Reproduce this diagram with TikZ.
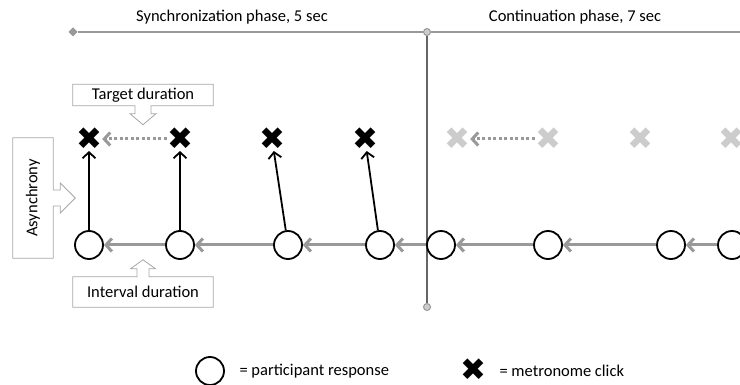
\documentclass[tikz,border=0pt]{standalone}
\usepackage{fontspec}
\setmainfont{Carlito}
\newfontfamily\symbolfont{DejaVu Sans}
\usepackage{tikz}
\usetikzlibrary{arrows.meta,shapes.geometric}
\definecolor{linegray}{gray}{0.6}
\definecolor{palegray}{gray}{0.8}
\definecolor{framegray}{gray}{0.65}
\definecolor{splitgray}{gray}{0.4}
\def\tipdown{-- ++(0,8) -- ++(5,0) -- ++(-13,11) -- ++(-13,-11) -- ++(5,0) -- ++(0,-8)}
\def\tipup{-- ++(0,-8) -- ++(-6.5,0) -- ++(12.5,-9) -- ++(12.5,9) -- ++(-6.5,0) -- ++(0,8)}
\def\tipright{-- ++(7,0) -- ++(0,-7) -- ++(15,15) -- ++(-15,15) -- ++(0,-7) -- ++(-7,0)}
\tikzset{
    resp/.style={circle, draw, line width=1.8pt, minimum size=28pt, inner sep=0pt},
    click/.style={inner sep=0pt, text=#1, font=\symbolfont\fontsize{31}{31}\selectfont},
    click/.default=black,
    box/.style={minimum width=140pt, minimum height=21pt, inner sep=0pt},
    callout/.style={draw=framegray, line width=0.8pt, line join=miter},
    interval/.style={draw=linegray, line width=3pt, -{Straight Barb[length=6pt,width=13pt]}},
    target/.style={draw=linegray, line width=3pt, dash pattern=on 3pt off 2.5pt, -{Straight Barb[length=6pt,width=13pt]}},
    answer/.style={line width=1.8pt, -{Straight Barb[length=6pt,width=13pt]}, shorten >=1pt},
    mark/.style={draw=linegray, fill=#1, line width=1pt, inner sep=0pt, minimum size=7pt},
}
\begin{document}
\begin{tikzpicture}[x=1pt, y=-1pt, font=\fontsize{16.5}{19}\selectfont]
                \useasboundingbox (0,0) rectangle (740,385);
                % time line
                \node (synctitle) at (232,17) {Synchronization phase, 5 sec};
                \node (conttitle) at (575,17) {Continuation phase, 7 sec};
                \node[mark=linegray, diamond, minimum size=8pt] (start) at (73,32) {};
                \node[mark=palegray, circle] (switch) at (427,32) {};
                \node[mark=palegray, circle] (stop) at (427,307) {};
                \coordinate (far) at (745,32);
                \draw[linegray, line width=2pt] (start) -- (switch) -- (far);
                \draw[splitgray, line width=1.5pt] (switch) -- (stop);
                % clicks
                \node[click] (m1) at (89,139) {✖};
                \node[click] (m2) at (180,139) {✖};
                \node[click] (m3) at (272,139) {✖};
                \node[click] (m4) at (365,139) {✖};
                \node[click=palegray] (m5) at (457,139) {✖};
                \node[click=palegray] (m6) at (548,139) {✖};
                \node[click=palegray] (m7) at (640,139) {✖};
                \node[click=palegray] (m8) at (731,139) {✖};
                % responses
                \node[resp] (r1) at (89,245) {};
                \node[resp] (r2) at (180,245) {};
                \node[resp] (r3) at (288,245) {};
                \node[resp] (r4) at (380,245) {};
                \node[resp] (r5) at (441,245) {};
                \node[resp] (r6) at (548,245) {};
                \node[resp] (r7) at (671,245) {};
                \node[resp] (r8) at (732,245) {};
                \draw[interval] (r8) -- (r7);
                \draw[interval] (r7) -- (r6);
                \draw[interval] (r6) -- (r5);
                \draw[interval] (r5) -- (r4);
                \draw[interval] (r4) -- (r3);
                \draw[interval] (r3) -- (r2);
                \draw[interval] (r2) -- (r1);
                \draw[answer] (r1) -- (m1);
                \draw[answer] (r2) -- (m2);
                \draw[answer] (r3) -- (m3);
                \draw[answer] (r4) -- (m4);
                \draw[target] (m2) -- (m1);
                \draw[target] (m6) -- (m5);
                % labels
                \node[box] (targetbox) at (143,95) {Target duration};
                \draw[callout] ([xshift=8pt]targetbox.south) \tipdown -- (targetbox.south west)
                    -- (targetbox.north west) -- (targetbox.north east) -- (targetbox.south east) -- cycle;
                \node[box, minimum height=30pt] (intervalbox) at (143,292) {Interval duration};
                \draw[callout] ([xshift=-6pt]intervalbox.north) \tipup -- (intervalbox.north east)
                    -- (intervalbox.south east) -- (intervalbox.south west) -- (intervalbox.north west) -- cycle;
                \node[box, minimum width=40pt, minimum height=120pt] (asyncbox) at (33,198) {\rotatebox{90}{Asynchrony}};
                \draw[callout] ([yshift=8pt]asyncbox.east) \tipright -- (asyncbox.south east)
                    -- (asyncbox.south west) -- (asyncbox.north west) -- (asyncbox.north east) -- cycle;
                % key
                \node[resp] (keyresp) at (210,371) {};
                \node[anchor=west] (keyresptext) at (236,371) {= participant response};
                \node[click] (keyclick) at (473,370) {✖};
                \node[anchor=west] (keyclicktext) at (496,371) {= metronome click};
            \end{tikzpicture}
\end{document}
